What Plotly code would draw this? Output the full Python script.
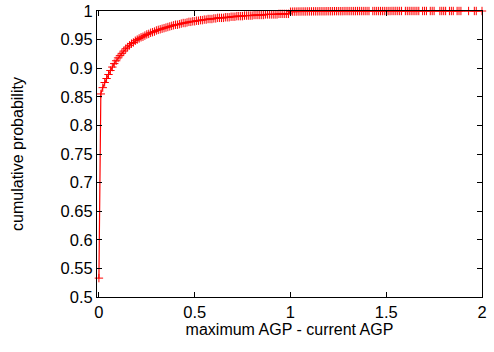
import plotly.graph_objects as go

# Cumulative distribution of (maximum AGP - current AGP), 0.01-wide bins
agp_gap = [
    0.00, 0.01, 0.02, 0.03, 0.04, 0.05, 0.06, 0.07, 0.08, 0.09,
    0.10, 0.11, 0.12, 0.13, 0.14, 0.15, 0.16, 0.17, 0.18, 0.19,
    0.20, 0.21, 0.22, 0.23, 0.24, 0.25, 0.26, 0.27, 0.28, 0.29,
    0.30, 0.31, 0.32, 0.33, 0.34, 0.35, 0.36, 0.37, 0.38, 0.39,
    0.40, 0.41, 0.42, 0.43, 0.44, 0.45, 0.46, 0.47, 0.48, 0.49,
    0.50, 0.51, 0.52, 0.53, 0.54, 0.55, 0.56, 0.57, 0.58, 0.59,
    0.60, 0.61, 0.62, 0.63, 0.64, 0.65, 0.66, 0.67, 0.68, 0.69,
    0.70, 0.71, 0.72, 0.73, 0.74, 0.75, 0.76, 0.77, 0.78, 0.79,
    0.80, 0.81, 0.82, 0.83, 0.84, 0.85, 0.86, 0.87, 0.88, 0.89,
    0.90, 0.91, 0.92, 0.93, 0.94, 0.95, 0.96, 0.97, 0.98, 0.99,
    1.00, 1.01, 1.02, 1.03, 1.04, 1.05, 1.06, 1.07, 1.08, 1.09,
    1.10, 1.11, 1.12, 1.13, 1.14, 1.15, 1.16, 1.17, 1.18, 1.19,
    1.20, 1.21, 1.22, 1.23, 1.24, 1.25, 1.26, 1.27, 1.28, 1.29,
    1.30, 1.31, 1.32, 1.33, 1.34, 1.35, 1.36, 1.37, 1.38, 1.39,
    1.40, 1.41, 1.43, 1.44, 1.45, 1.46, 1.47, 1.48, 1.49,
    1.50, 1.51, 1.52, 1.53, 1.54, 1.55, 1.56, 1.57, 1.58,
    1.60, 1.61, 1.62, 1.63, 1.64, 1.65, 1.66, 1.67,
    1.69, 1.70, 1.71, 1.73, 1.74, 1.75,
    1.78, 1.79, 1.80, 1.81, 1.83, 1.84, 1.85,
    1.87, 1.88, 1.89, 1.93, 1.96, 1.97, 2.00,
]

cum_prob = [
    0.533, 0.855, 0.866, 0.875, 0.882, 0.889, 0.896, 0.902, 0.908, 0.913,
    0.918, 0.922, 0.926, 0.930, 0.934, 0.937, 0.940, 0.943, 0.945, 0.948,
    0.950, 0.952, 0.954, 0.955, 0.957, 0.959, 0.960, 0.962, 0.963, 0.964,
    0.966, 0.967, 0.968, 0.969, 0.970, 0.971, 0.972, 0.973, 0.974, 0.975,
    0.976, 0.976, 0.977, 0.978, 0.979, 0.979, 0.980, 0.981, 0.981, 0.982,
    0.982, 0.983, 0.983, 0.984, 0.984, 0.985, 0.985, 0.986, 0.986, 0.986,
    0.987, 0.987, 0.988, 0.988, 0.988, 0.988, 0.989, 0.989, 0.989, 0.990,
    0.990, 0.990, 0.991, 0.991, 0.991, 0.991, 0.992, 0.992, 0.992, 0.992,
    0.992, 0.993, 0.993, 0.993, 0.993, 0.993, 0.993, 0.994, 0.994, 0.994,
    0.994, 0.994, 0.994, 0.994, 0.995, 0.995, 0.995, 0.995, 0.995, 0.995,
    0.9988, 0.9989, 0.9990, 0.9990, 0.9991, 0.9991, 0.9992, 0.9992, 0.9992, 0.9993,
    0.9993, 0.9993, 0.9994, 0.9994, 0.9994, 0.9995, 0.9995, 0.9995, 0.9995, 0.9996,
    0.9996, 0.9996, 0.9996, 0.9997, 0.9997, 0.9997, 0.9997, 0.9997, 0.9998, 0.9998,
    0.9998, 0.9998, 0.9998, 0.9998, 0.9998, 0.9999, 0.9999, 0.9999, 0.9999, 0.9999,
    0.9999, 0.9999, 0.9999, 0.9999, 0.9999, 0.9999, 0.9999, 0.9999, 0.9999,
    0.9999, 0.9999, 0.9999, 1.0, 1.0, 1.0, 1.0, 1.0, 1.0,
    1.0, 1.0, 1.0, 1.0, 1.0, 1.0, 1.0, 1.0,
    1.0, 1.0, 1.0, 1.0, 1.0, 1.0,
    1.0, 1.0, 1.0, 1.0, 1.0, 1.0, 1.0,
    1.0, 1.0, 1.0, 1.0, 1.0, 1.0, 1.0,
]

x_ticks = [0, 0.5, 1, 1.5, 2]
y_ticks = [0.5, 0.55, 0.6, 0.65, 0.7, 0.75, 0.8, 0.85, 0.9, 0.95, 1]

FONT = "Liberation Sans, Arial, Helvetica, sans-serif"
TICK_SIZE = 16.5
TITLE_SIZE = 16

fig = go.Figure(
    go.Scatter(
        x=agp_gap,
        y=cum_prob,
        mode="lines+markers",
        line=dict(color="#ff0000", width=1.2),
        marker=dict(symbol="cross-thin", size=6,
                    line=dict(color="#ff0000", width=1)),
        cliponaxis=False,
        showlegend=False,
    )
)

axis_common = dict(
    showgrid=False,
    zeroline=False,
    showline=True,
    linecolor="black",
    linewidth=1,
    mirror="ticks",
    ticks="inside",
    ticklen=5,
    tickwidth=1,
    tickcolor="black",
    tickfont=dict(family=FONT, size=TICK_SIZE, color="black"),
)

fig.update_xaxes(
    range=[-0.01, 2],
    tickvals=x_ticks,
    ticktext=[f"{v:g}" for v in x_ticks],
    ticklabelstandoff=0,
    title=dict(text="maximum AGP - current AGP",
               font=dict(family=FONT, size=TITLE_SIZE, color="black"), standoff=4),
    **axis_common,
)
fig.update_yaxes(
    range=[0.5, 1],
    tickvals=y_ticks,
    ticktext=[f"{v:g}" for v in y_ticks],
    title=dict(text="cumulative probability",
               font=dict(family=FONT, size=TITLE_SIZE, color="black"), standoff=32),
    **axis_common,
)

fig.update_layout(
    width=494,
    height=352,
    margin=dict(l=97, r=12, t=11, b=55, autoexpand=False),
    paper_bgcolor="white",
    plot_bgcolor="white",
    font=dict(family=FONT, size=TICK_SIZE, color="black"),
)

fig.write_html("out.html")
